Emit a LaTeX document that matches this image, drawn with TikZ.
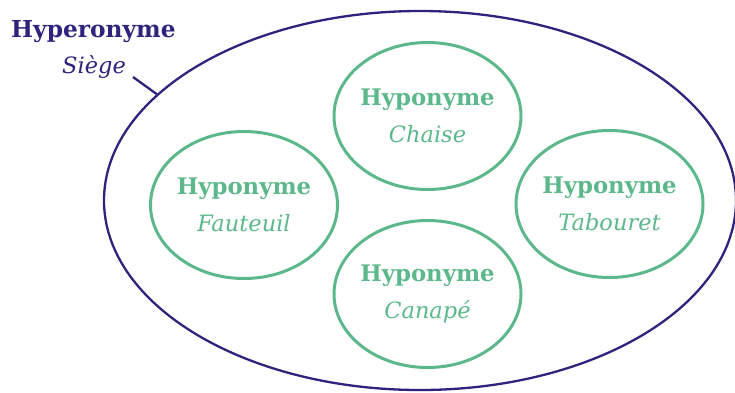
\documentclass[tikz,border=0pt]{standalone}
\usepackage{fontspec}
\setmainfont{DejaVu Serif}
\usetikzlibrary{shapes.geometric}
\definecolor{hyperblue}{RGB}{46,35,125}
\definecolor{hypogreen}{RGB}{92,184,138}
\newcommand{\hyponame}[1]{{\fontsize{22.8}{37}\selectfont\bfseries Hyponyme}\\{\fontsize{22.5}{37}\selectfont\itshape #1}}
\tikzset{
    hyper/.style={ellipse, draw=hyperblue, line width=2.3pt, inner sep=0pt},
    hypo/.style={ellipse, draw=hypogreen, line width=3pt, text=hypogreen,
        minimum width=187pt, minimum height=147pt, align=center, inner sep=-6pt,
        font=\fontsize{22}{37}\selectfont},
    hypertext/.style={anchor=base west, inner sep=0pt, text=hyperblue}
}
\begin{document}
\begin{tikzpicture}[x=1pt,y=-1pt]
    \useasboundingbox (0,0) rectangle (735,392);
    % the hyperonym and its label
    \node[hyper, minimum width=632pt, minimum height=379pt] (siege) at (420,200.5) {};
    \node[hypertext, font=\fontsize{23.3}{25}\selectfont\bfseries] (hyperlabel) at (11,37) {Hyperonyme};
    \node[hypertext, font=\fontsize{22.5}{24}\selectfont\itshape] (siegelabel) at (62,73) {Siège};
    \coordinate (tick) at (133,77);
    \draw[hyperblue, line width=2.3pt] (tick) -- (siege.158.5);
    % the hyponyms
    \node[hypo] (chaise) at (427.5,116) {\hyponame{Chaise}};
    \node[hypo] (fauteuil) at (244,205) {\hyponame{Fauteuil}};
    \node[hypo] (tabouret) at (609.5,204) {\hyponame{Tabouret}};
    \node[hypo] (canape) at (427.5,294) {\hyponame{Canapé}};
\end{tikzpicture}
\end{document}
